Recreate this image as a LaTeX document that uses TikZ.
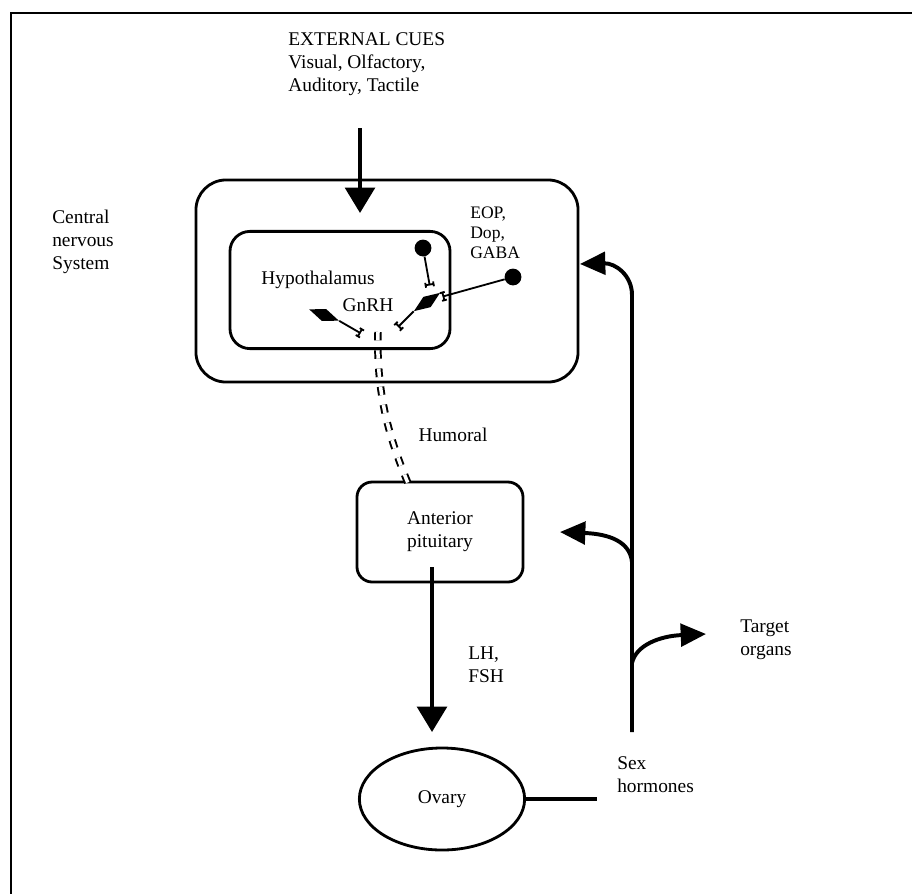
\documentclass[tikz,border=0pt]{standalone}
\usepackage{fontspec}
\setmainfont{Liberation Serif}
\usetikzlibrary{arrows.meta,shapes.geometric,positioning}
\begin{document}
\begin{tikzpicture}[x=0.025cm, y=-0.025cm, font=\fontsize{13.8}{16.5}\selectfont,
    box/.style = {draw, line width=2pt, rounded corners=#1},
    txt/.style = {align=left, inner sep=0pt},
    small/.style = {txt, font=\fontsize{12.5}{14.2}\selectfont},
    dot/.style = {circle, fill, inner sep=0pt, minimum size=0.42cm},
    soma/.style = {diamond, fill, inner sep=0pt, minimum width=0.8cm, minimum height=0.32cm},
    axon/.style = {line width=1.3pt, -{Tee Barb[width=7pt, length=3.5pt]}},
    bigarrow/.style = {line width=2.8pt, -{Triangle[length=18pt, width=21pt]}},
    bentarrow/.style = {line width=2.8pt, -{Triangle[length=18pt, width=16pt]}},
    humoral/.style = {double, double distance=2.5pt, line width=1.4pt, dash pattern=on 6pt off 7pt}]
    \useasboundingbox (0,0) rectangle (912,894);
    \draw[line width=1.5pt] (912,13) -- (11,13) -- (11,894);
    \node[txt, anchor=west] (cues) at (288,64) {EXTERNAL CUES\\Visual, Olfactory,\\Auditory, Tactile};
    \node[box=0.75cm, minimum width=9.55cm, minimum height=5.05cm] (cns) at (387,281) {};
    \node[txt, anchor=west] (cnslabel) at (52,242) {Central\\nervous\\System};
    \node[box=0.5cm, minimum width=5.5cm, minimum height=2.93cm] (hyp) at (340,290) {};
    \node[txt] (hyplabel) at (318,280) {Hypothalamus};
    \node[txt] (gnrh) at (368,305) {GnRH};
    \node[small, anchor=west] (eop) at (470,233) {EOP,\\Dop,\\GABA};
    \node[dot] (d1) at (423,248) {};
    \node[dot] (d2) at (513,277) {};
    \node[soma, rotate=35] (s2) at (427,302) {};
    \node[soma, rotate=-21] (s1) at (324,315) {};
    \coordinate (t1) at (362,334);
    \coordinate (t2) at (397,328);
    \coordinate (t3) at (430,287);
    \coordinate (t4) at (441,297);
    \draw[axon] (s1.east) -- (t1);
    \draw[axon] (s2.west) -- (t2);
    \draw[axon] (d1) -- (t3);
    \draw[axon] (d2) -- (t4);
    \node[box=0.38cm, minimum width=4.15cm, minimum height=2.5cm, align=center] (pit) at (440,532) {Anterior\\pituitary};
    \coordinate (g0) at (378,332);
    \coordinate (g1) at (410,488);
    \draw[humoral] (g0) .. controls (376,400) and (392,445) .. (g1);
    \node[txt] (hum) at (453,435) {Humoral};
    \node[draw, ellipse, line width=2pt, minimum width=4.13cm, minimum height=2.55cm] (ov) at (442,799) {Ovary};
    \coordinate (c0) at (360,128);
    \coordinate (c1) at (360,213);
    \draw[bigarrow] (c0) -- (c1);
    \coordinate (lh0) at (432,567);
    \coordinate (lh1) at (432,732);
    \draw[bigarrow] (lh0) -- (lh1);
    \node[txt, anchor=west] (lh) at (468,665) {LH,\\FSH};
    \coordinate (sx) at (597,799);
    \draw[line width=2.8pt] (ov) -- (sx);
    \node[txt, anchor=west] (sex) at (617,775) {Sex\\hormones};
    \coordinate (fb0) at (632,732);
    \coordinate (fb1) at (632,295);
    \coordinate (fb2) at (580,264);
    \draw[bentarrow] (fb0) -- (fb1) .. controls (632,275) and (615,263) .. (fb2);
    \coordinate (br1) at (632,562);
    \coordinate (br2) at (560,532);
    \draw[bentarrow] (br1) .. controls (630,542) and (610,534) .. (br2);
    \coordinate (br3) at (632,663);
    \coordinate (br4) at (706,634);
    \draw[bentarrow] (br3) .. controls (636,645) and (660,636) .. (br4);
    \node[txt, anchor=west] (target) at (740,640) {Target\\organs};
\end{tikzpicture}
\end{document}
